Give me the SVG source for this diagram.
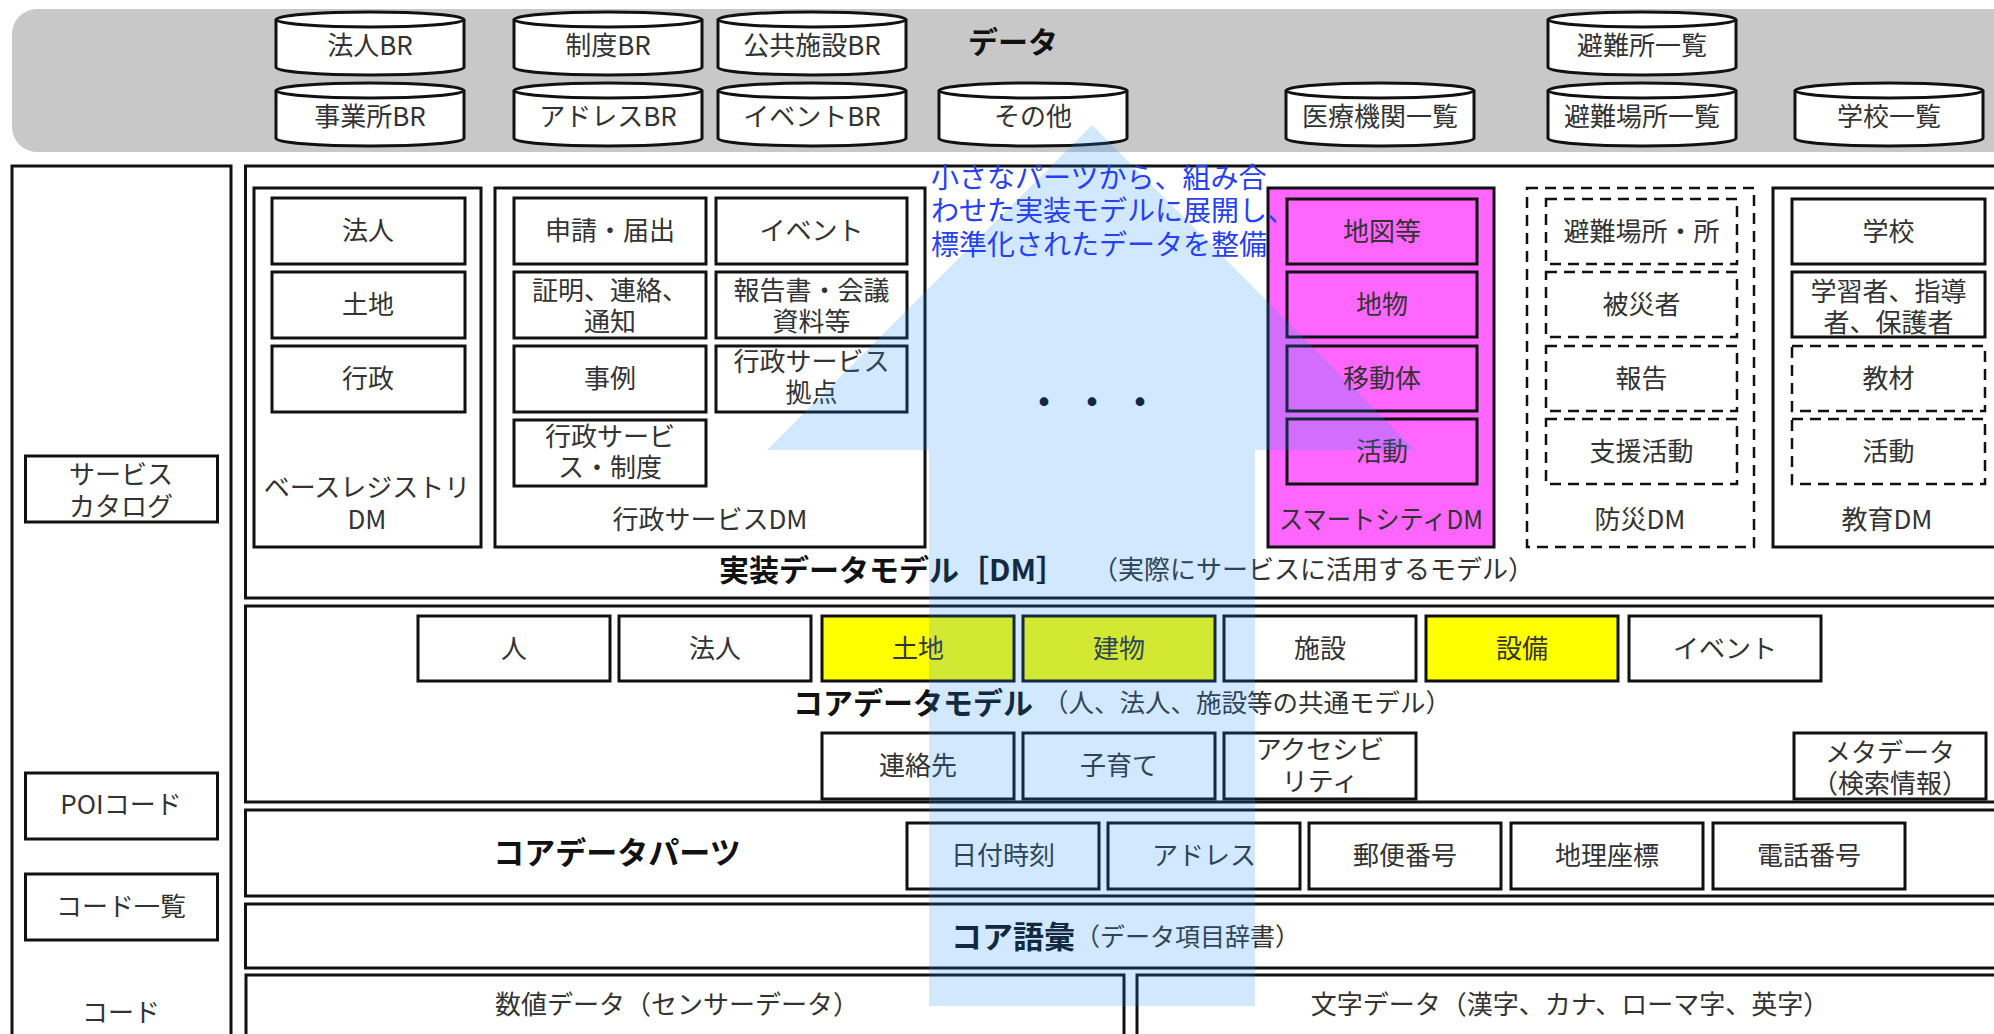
<svg xmlns="http://www.w3.org/2000/svg" xmlns:xlink="http://www.w3.org/1999/xlink" width="1994" height="1034" viewBox="0 0 1994 1034">
<style>
.t{font-family:"Noto Sans CJK JP","Noto Sans",sans-serif;font-size:26px;fill:#333;text-anchor:middle;dominant-baseline:central;transform:translate(0px,-2.5px);}
.s{text-anchor:start;}
.b{font-weight:700;fill:#111;}
.box{fill:#fff;stroke:#111;stroke-width:3;}
.dash{fill:#fff;stroke:#111;stroke-width:2.5;stroke-dasharray:11 7;}
.frame{fill:#fff;stroke:#111;stroke-width:3;}
.layer{fill:#fff;stroke:#111;stroke-width:3;}
.mag{fill:#ff66ff;}
.yel{fill:#ffff00;}
.blue{fill:#2640f5;font-size:28px;}
</style>
<defs>
<g id="cyl">
<path d="M0,7.5 A94,7.5 0 0 1 188,7.5 L188,55.5 A94,7.5 0 0 1 0,55.5 Z" fill="#fff" stroke="#111" stroke-width="3"/>
<path d="M0,7.5 A94,7.5 0 0 0 188,7.5" fill="none" stroke="#111" stroke-width="3"/>
</g>
</defs>
<rect width="1994" height="1034" fill="#fff"/>

<g id="data-band">
<rect x="12" y="9" width="2010" height="143" rx="25" fill="#c8c8c8"/>
<text class="t b" x="1013" y="42" style="font-size:30px">データ</text>
</g>
<g id="cylinders">
<g id="c-houjinbr"><use xlink:href="#cyl" x="276" y="12"/><text class="t" x="370" y="45.5">法人BR</text></g>
<g id="c-jigyoshobr"><use xlink:href="#cyl" x="276" y="83"/><text class="t" x="370" y="116.5">事業所BR</text></g>
<g id="c-seidobr"><use xlink:href="#cyl" x="514" y="12"/><text class="t" x="608" y="45.5">制度BR</text></g>
<g id="c-addressbr"><use xlink:href="#cyl" x="514" y="83"/><text class="t" x="608" y="116.5">アドレスBR</text></g>
<g id="c-kokyobr"><use xlink:href="#cyl" x="718" y="12"/><text class="t" x="812" y="45.5">公共施設BR</text></g>
<g id="c-eventbr"><use xlink:href="#cyl" x="718" y="83"/><text class="t" x="812" y="116.5">イベントBR</text></g>
<g id="c-sonota"><use xlink:href="#cyl" x="939" y="83"/><text class="t" x="1033" y="116.5">その他</text></g>
<g id="c-iryo"><use xlink:href="#cyl" x="1286" y="83"/><text class="t" x="1380" y="116.5">医療機関一覧</text></g>
<g id="c-hinanjo"><use xlink:href="#cyl" x="1548" y="12"/><text class="t" x="1642" y="45.5">避難所一覧</text></g>
<g id="c-hinanbasho"><use xlink:href="#cyl" x="1548" y="83"/><text class="t" x="1642" y="116.5">避難場所一覧</text></g>
<g id="c-gakko"><use xlink:href="#cyl" x="1795" y="83"/><text class="t" x="1889" y="116.5">学校一覧</text></g>
</g>

<g id="left-column">
<rect class="frame" x="12" y="166" width="219" height="900" stroke-width="2.5"/>
<g id="service-catalog"><rect class="box" x="25.5" y="456" width="192" height="66" stroke-width="2.5"/><text class="t" x="121" y="475">サービス</text><text class="t" x="121" y="507">カタログ</text></g>
<g id="poi-code"><rect class="box" x="25.5" y="773" width="192" height="66" stroke-width="2.5"/><text class="t" x="121" y="805">POIコード</text></g>
<g id="code-list"><rect class="box" x="25.5" y="874" width="192" height="66" stroke-width="2.5"/><text class="t" x="121" y="907">コード一覧</text></g>
<text class="t" x="121" y="1013">コード</text>
</g>

<g id="layer-dm">
<rect class="layer" x="245.5" y="166" width="1780" height="432"/>
<g id="base-registry-dm">
<rect class="frame" x="254" y="188" width="227" height="359"/>
<rect class="box" x="272" y="198" width="193" height="66"/><text class="t" x="368" y="231">法人</text>
<rect class="box" x="272" y="272" width="193" height="66"/><text class="t" x="368" y="305">土地</text>
<rect class="box" x="272" y="346" width="193" height="66"/><text class="t" x="368" y="379">行政</text>
<text class="t" x="367" y="488">ベースレジストリ</text><text class="t" x="367" y="520">DM</text>
</g>
<g id="gyosei-dm">
<rect class="frame" x="495" y="188" width="430" height="359"/>
<rect class="box" x="514" y="198" width="192" height="66"/><text class="t" x="610" y="231">申請・届出</text>
<rect class="box" x="716" y="198" width="191" height="66"/><text class="t" x="811.5" y="231">イベント</text>
<rect class="box" x="514" y="272" width="192" height="66"/><text class="t" x="610" y="291">証明、連絡、</text><text class="t" x="610" y="322">通知</text>
<rect class="box" x="716" y="272" width="191" height="66"/><text class="t" x="811.5" y="291">報告書・会議</text><text class="t" x="811.5" y="322">資料等</text>
<rect class="box" x="514" y="346" width="192" height="66"/><text class="t" x="610" y="379">事例</text>
<rect class="box" x="716" y="346" width="191" height="66"/><text class="t" x="811.5" y="362">行政サービス</text><text class="t" x="811.5" y="393">拠点</text>
<rect class="box" x="514" y="420" width="192" height="66"/><text class="t" x="610" y="437">行政サービ</text><text class="t" x="610" y="468">ス・制度</text>
<text class="t" x="710" y="520">行政サービスDM</text>
</g>
<g id="smartcity-dm">
<rect class="frame mag" x="1268" y="188" width="226" height="359"/>
<rect class="box mag" x="1287" y="199" width="190" height="65"/><text class="t" x="1382" y="231.5">地図等</text>
<rect class="box mag" x="1287" y="272" width="190" height="65"/><text class="t" x="1382" y="304.5">地物</text>
<rect class="box mag" x="1287" y="346" width="190" height="65"/><text class="t" x="1382" y="378.5">移動体</text>
<rect class="box mag" x="1287" y="419" width="190" height="65"/><text class="t" x="1382" y="451.5">活動</text>
<text class="t" x="1381" y="520" textLength="204" lengthAdjust="spacingAndGlyphs">スマートシティDM</text>
</g>
<g id="bosai-dm">
<rect class="dash" x="1527" y="188" width="227" height="359"/>
<rect class="dash" x="1546" y="199" width="191" height="65"/><text class="t" x="1641.5" y="231.5">避難場所・所</text>
<rect class="dash" x="1546" y="272" width="191" height="65"/><text class="t" x="1641.5" y="304.5">被災者</text>
<rect class="dash" x="1546" y="346" width="191" height="65"/><text class="t" x="1641.5" y="378.5">報告</text>
<rect class="dash" x="1546" y="419" width="191" height="65"/><text class="t" x="1641.5" y="451.5">支援活動</text>
<text class="t" x="1640" y="520">防災DM</text>
</g>
<g id="kyoiku-dm">
<rect class="frame" x="1773" y="188" width="260" height="359"/>
<rect class="box" x="1792" y="199" width="193" height="65"/><text class="t" x="1888.5" y="231.5">学校</text>
<rect class="box" x="1792" y="272" width="193" height="65"/><text class="t" x="1888.5" y="291.5">学習者、指導</text><text class="t" x="1888.5" y="323">者、保護者</text>
<rect class="dash" x="1792" y="346" width="193" height="65"/><text class="t" x="1888.5" y="378.5">教材</text>
<rect class="dash" x="1792" y="419" width="193" height="65"/><text class="t" x="1888.5" y="451.5">活動</text>
<text class="t" x="1887" y="520">教育DM</text>
</g>
<text class="t s b" x="719" y="570" style="font-size:30px">実装データモデル［DM］</text>
<text class="t s" x="1092" y="570">（実際にサービスに活用するモデル）</text>
</g>

<g id="layer-core-model">
<rect class="layer" x="245.5" y="606" width="1780" height="196"/>
<g id="cm-hito"><rect class="box" x="418" y="616" width="192" height="65"/><text class="t" x="514" y="648.5">人</text></g>
<g id="cm-houjin"><rect class="box" x="619" y="616" width="192" height="65"/><text class="t" x="715" y="648.5">法人</text></g>
<g id="cm-tochi"><rect class="box yel" x="822" y="616" width="192" height="65"/><text class="t" x="918" y="648.5">土地</text></g>
<g id="cm-tatemono"><rect class="box yel" x="1023" y="616" width="192" height="65"/><text class="t" x="1119" y="648.5">建物</text></g>
<g id="cm-shisetsu"><rect class="box" x="1224" y="616" width="192" height="65"/><text class="t" x="1320" y="648.5">施設</text></g>
<g id="cm-setsubi"><rect class="box yel" x="1426" y="616" width="192" height="65"/><text class="t" x="1522" y="648.5">設備</text></g>
<g id="cm-event"><rect class="box" x="1629" y="616" width="192" height="65"/><text class="t" x="1725" y="648.5">イベント</text></g>
<text class="t s b" x="793" y="703" style="font-size:30px">コアデータモデル</text>
<text class="t s" x="1043" y="703" style="font-size:25.5px">（人、法人、施設等の共通モデル）</text>
<g id="cm-renraku"><rect class="box" x="822" y="733" width="192" height="66"/><text class="t" x="918" y="766">連絡先</text></g>
<g id="cm-kosodate"><rect class="box" x="1023" y="733" width="192" height="66"/><text class="t" x="1119" y="766">子育て</text></g>
<g id="cm-access"><rect class="box" x="1224" y="733" width="192" height="66"/><text class="t" x="1320" y="749.5">アクセシビ</text><text class="t" x="1320" y="781.5">リティ</text></g>
<g id="cm-meta"><rect class="box" x="1794" y="733" width="192" height="66"/><text class="t" x="1890" y="752.5">メタデータ</text><text class="t" x="1890" y="783.5">（検索情報）</text></g>
</g>

<g id="layer-core-parts">
<rect class="layer" x="245.5" y="810" width="1780" height="86"/>
<text class="t b" x="617" y="853" style="font-size:31px">コアデータパーツ</text>
<g id="cp-datetime"><rect class="box" x="907" y="823" width="192" height="66"/><text class="t" x="1003" y="856">日付時刻</text></g>
<g id="cp-address"><rect class="box" x="1108" y="823" width="192" height="66"/><text class="t" x="1204" y="856">アドレス</text></g>
<g id="cp-postal"><rect class="box" x="1309" y="823" width="192" height="66"/><text class="t" x="1405" y="856">郵便番号</text></g>
<g id="cp-geo"><rect class="box" x="1511" y="823" width="192" height="66"/><text class="t" x="1607" y="856">地理座標</text></g>
<g id="cp-tel"><rect class="box" x="1713" y="823" width="192" height="66"/><text class="t" x="1809" y="856">電話番号</text></g>
</g>

<g id="layer-vocab">
<rect class="layer" x="245.5" y="904" width="1780" height="64"/>
<text class="t s b" x="951" y="937" style="font-size:31px">コア語彙</text>
<text class="t s" x="1075" y="937" style="font-size:25px">（データ項目辞書）</text>
</g>

<g id="layer-data">
<g id="numeric-data"><rect class="layer" x="246" y="975" width="878" height="80"/><text class="t" x="677" y="1005">数値データ（センサーデータ）</text></g>
<g id="text-data"><rect class="layer" x="1137" y="975" width="890" height="80"/><text class="t" x="1570" y="1005">文字データ（漢字、カナ、ローマ字、英字）</text></g>
</g>

<g id="ellipsis">
<text class="t s" x="1027" y="403" style="font-size:34px;font-weight:700;letter-spacing:14px;fill:#111">・・・</text>
</g>

<g id="connectors">
<polygon id="big-arrow" points="1092,125 1415,450 1255,450 1255,1006 929,1006 929,450 767,450" fill="rgb(30,140,250)" fill-opacity="0.2"/>
<g id="arrow-label">
<text class="t s blue" x="931" y="178">小さなパーツから、組み合</text>
<text class="t s blue" x="931" y="211.5">わせた実装モデルに展開し、</text>
<text class="t s blue" x="931" y="245">標準化されたデータを整備</text>
</g>
</g>
</svg>
